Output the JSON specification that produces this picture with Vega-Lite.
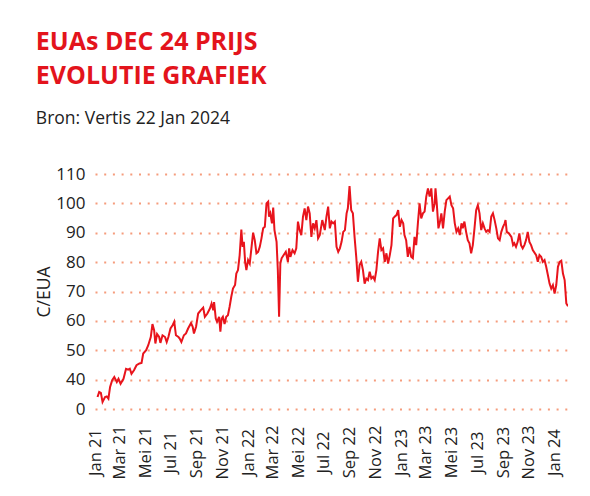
{
  "$schema": "https://vega.github.io/schema/vega-lite/v6.json",
  "width": 473,
  "height": 235,
  "autosize": {"type": "none"},
  "padding": {"left": 95, "top": 174, "right": 22, "bottom": 87},
  "background": "white",
  "title": {
    "text": ["EUAs DEC 24 PRIJS", "EVOLUTIE GRAFIEK"],
    "subtitle": "Bron: Vertis 22 Jan 2024",
    "anchor": "start",
    "frame": "bounds",
    "font": "Open Sans",
    "fontSize": 25,
    "fontWeight": "bold",
    "lineHeight": 34,
    "color": "#e3141c",
    "subtitleFont": "Open Sans",
    "subtitleFontSize": 17.5,
    "subtitleColor": "#222222",
    "subtitlePadding": 21,
    "offset": 38
  },
  "data": {
    "values": [
      {"date": "2021-01-07", "price": 34.1},
      {"date": "2021-01-11", "price": 35.8},
      {"date": "2021-01-15", "price": 35.5},
      {"date": "2021-01-19", "price": 32.4},
      {"date": "2021-01-25", "price": 34.1},
      {"date": "2021-01-29", "price": 34.3},
      {"date": "2021-02-02", "price": 33.5},
      {"date": "2021-02-06", "price": 37.5},
      {"date": "2021-02-11", "price": 39.8},
      {"date": "2021-02-16", "price": 40.9},
      {"date": "2021-02-22", "price": 39.2},
      {"date": "2021-02-26", "price": 40.3},
      {"date": "2021-03-03", "price": 38.6},
      {"date": "2021-03-10", "price": 40.3},
      {"date": "2021-03-16", "price": 43.7},
      {"date": "2021-03-21", "price": 43.4},
      {"date": "2021-03-25", "price": 43.7},
      {"date": "2021-03-29", "price": 42.0},
      {"date": "2021-04-04", "price": 43.2},
      {"date": "2021-04-10", "price": 44.9},
      {"date": "2021-04-17", "price": 45.5},
      {"date": "2021-04-22", "price": 45.7},
      {"date": "2021-04-26", "price": 48.9},
      {"date": "2021-05-03", "price": 50.0},
      {"date": "2021-05-08", "price": 51.7},
      {"date": "2021-05-14", "price": 54.5},
      {"date": "2021-05-18", "price": 58.9},
      {"date": "2021-05-22", "price": 56.8},
      {"date": "2021-05-25", "price": 52.3},
      {"date": "2021-05-29", "price": 55.5},
      {"date": "2021-06-03", "price": 54.5},
      {"date": "2021-06-06", "price": 52.5},
      {"date": "2021-06-11", "price": 55.1},
      {"date": "2021-06-17", "price": 54.5},
      {"date": "2021-06-21", "price": 52.8},
      {"date": "2021-06-25", "price": 54.5},
      {"date": "2021-06-30", "price": 57.4},
      {"date": "2021-07-05", "price": 58.5},
      {"date": "2021-07-09", "price": 59.7},
      {"date": "2021-07-13", "price": 55.1},
      {"date": "2021-07-19", "price": 54.5},
      {"date": "2021-07-22", "price": 54.0},
      {"date": "2021-07-26", "price": 52.8},
      {"date": "2021-08-01", "price": 55.1},
      {"date": "2021-08-06", "price": 55.7},
      {"date": "2021-08-11", "price": 57.4},
      {"date": "2021-08-18", "price": 59.3},
      {"date": "2021-08-22", "price": 58.0},
      {"date": "2021-08-25", "price": 55.7},
      {"date": "2021-08-30", "price": 58.0},
      {"date": "2021-09-04", "price": 62.5},
      {"date": "2021-09-10", "price": 63.6},
      {"date": "2021-09-16", "price": 64.5},
      {"date": "2021-09-20", "price": 61.4},
      {"date": "2021-09-26", "price": 62.5},
      {"date": "2021-10-02", "price": 64.2},
      {"date": "2021-10-06", "price": 65.9},
      {"date": "2021-10-10", "price": 63.6},
      {"date": "2021-10-12", "price": 66.4},
      {"date": "2021-10-16", "price": 60.8},
      {"date": "2021-10-19", "price": 59.7},
      {"date": "2021-10-24", "price": 61.4},
      {"date": "2021-10-27", "price": 56.3},
      {"date": "2021-10-30", "price": 60.8},
      {"date": "2021-11-02", "price": 61.4},
      {"date": "2021-11-06", "price": 58.9},
      {"date": "2021-11-10", "price": 61.4},
      {"date": "2021-11-14", "price": 61.9},
      {"date": "2021-11-18", "price": 64.8},
      {"date": "2021-11-22", "price": 68.2},
      {"date": "2021-11-26", "price": 71.0},
      {"date": "2021-12-01", "price": 72.2},
      {"date": "2021-12-04", "price": 76.1},
      {"date": "2021-12-08", "price": 77.3},
      {"date": "2021-12-12", "price": 82.4},
      {"date": "2021-12-16", "price": 91.1},
      {"date": "2021-12-19", "price": 85.2},
      {"date": "2021-12-22", "price": 86.9},
      {"date": "2021-12-25", "price": 80.1},
      {"date": "2021-12-28", "price": 77.3},
      {"date": "2022-01-01", "price": 80.7},
      {"date": "2022-01-05", "price": 79.5},
      {"date": "2022-01-09", "price": 84.7},
      {"date": "2022-01-13", "price": 90.0},
      {"date": "2022-01-17", "price": 87.5},
      {"date": "2022-01-21", "price": 83.0},
      {"date": "2022-01-25", "price": 83.5},
      {"date": "2022-01-29", "price": 85.2},
      {"date": "2022-02-02", "price": 88.1},
      {"date": "2022-02-06", "price": 91.5},
      {"date": "2022-02-10", "price": 92.0},
      {"date": "2022-02-14", "price": 100.0},
      {"date": "2022-02-18", "price": 100.6},
      {"date": "2022-02-20", "price": 95.5},
      {"date": "2022-02-23", "price": 96.6},
      {"date": "2022-02-27", "price": 93.2},
      {"date": "2022-03-02", "price": 98.6},
      {"date": "2022-03-05", "price": 90.9},
      {"date": "2022-03-10", "price": 86.9},
      {"date": "2022-03-13", "price": 77.3},
      {"date": "2022-03-16", "price": 61.4},
      {"date": "2022-03-19", "price": 79.5},
      {"date": "2022-03-22", "price": 81.3},
      {"date": "2022-03-27", "price": 82.4},
      {"date": "2022-04-01", "price": 83.5},
      {"date": "2022-04-06", "price": 80.1},
      {"date": "2022-04-09", "price": 84.7},
      {"date": "2022-04-12", "price": 81.8},
      {"date": "2022-04-17", "price": 84.1},
      {"date": "2022-04-22", "price": 83.0},
      {"date": "2022-04-26", "price": 84.7},
      {"date": "2022-04-30", "price": 93.8},
      {"date": "2022-05-04", "price": 90.9},
      {"date": "2022-05-08", "price": 89.2},
      {"date": "2022-05-12", "price": 95.5},
      {"date": "2022-05-16", "price": 98.3},
      {"date": "2022-05-20", "price": 94.3},
      {"date": "2022-05-24", "price": 98.9},
      {"date": "2022-05-28", "price": 96.6},
      {"date": "2022-06-01", "price": 88.6},
      {"date": "2022-06-05", "price": 93.2},
      {"date": "2022-06-09", "price": 91.5},
      {"date": "2022-06-13", "price": 94.3},
      {"date": "2022-06-17", "price": 88.1},
      {"date": "2022-06-21", "price": 89.2},
      {"date": "2022-06-27", "price": 94.3},
      {"date": "2022-07-03", "price": 90.9},
      {"date": "2022-07-07", "price": 95.5},
      {"date": "2022-07-11", "price": 98.9},
      {"date": "2022-07-15", "price": 91.5},
      {"date": "2022-07-19", "price": 93.8},
      {"date": "2022-07-23", "price": 93.2},
      {"date": "2022-07-27", "price": 93.8},
      {"date": "2022-07-31", "price": 85.2},
      {"date": "2022-08-04", "price": 83.5},
      {"date": "2022-08-08", "price": 84.7},
      {"date": "2022-08-12", "price": 86.9},
      {"date": "2022-08-16", "price": 90.3},
      {"date": "2022-08-20", "price": 90.9},
      {"date": "2022-08-24", "price": 96.6},
      {"date": "2022-08-27", "price": 98.3},
      {"date": "2022-08-31", "price": 105.9},
      {"date": "2022-09-04", "price": 97.7},
      {"date": "2022-09-08", "price": 96.6},
      {"date": "2022-09-12", "price": 88.6},
      {"date": "2022-09-16", "price": 81.8},
      {"date": "2022-09-20", "price": 73.3},
      {"date": "2022-09-24", "price": 79.0},
      {"date": "2022-09-28", "price": 80.1},
      {"date": "2022-10-02", "price": 77.3},
      {"date": "2022-10-06", "price": 72.7},
      {"date": "2022-10-10", "price": 74.4},
      {"date": "2022-10-14", "price": 73.9},
      {"date": "2022-10-18", "price": 76.7},
      {"date": "2022-10-22", "price": 74.4},
      {"date": "2022-10-26", "price": 75.0},
      {"date": "2022-10-30", "price": 73.9},
      {"date": "2022-11-03", "price": 77.3},
      {"date": "2022-11-07", "price": 83.5},
      {"date": "2022-11-11", "price": 88.1},
      {"date": "2022-11-15", "price": 84.1},
      {"date": "2022-11-19", "price": 84.7},
      {"date": "2022-11-23", "price": 80.1},
      {"date": "2022-11-27", "price": 83.0},
      {"date": "2022-12-01", "price": 79.5},
      {"date": "2022-12-05", "price": 82.4},
      {"date": "2022-12-09", "price": 85.8},
      {"date": "2022-12-13", "price": 94.9},
      {"date": "2022-12-17", "price": 95.5},
      {"date": "2022-12-21", "price": 96.0},
      {"date": "2022-12-25", "price": 97.7},
      {"date": "2022-12-29", "price": 92.0},
      {"date": "2023-01-02", "price": 94.3},
      {"date": "2023-01-06", "price": 93.2},
      {"date": "2023-01-09", "price": 89.2},
      {"date": "2023-01-13", "price": 87.5},
      {"date": "2023-01-17", "price": 81.8},
      {"date": "2023-01-21", "price": 85.2},
      {"date": "2023-01-25", "price": 81.8},
      {"date": "2023-01-29", "price": 81.3},
      {"date": "2023-02-02", "price": 88.6},
      {"date": "2023-02-06", "price": 85.8},
      {"date": "2023-02-10", "price": 93.2},
      {"date": "2023-02-14", "price": 100.0},
      {"date": "2023-02-18", "price": 94.9},
      {"date": "2023-02-22", "price": 96.6},
      {"date": "2023-02-26", "price": 97.2},
      {"date": "2023-03-02", "price": 102.3},
      {"date": "2023-03-06", "price": 105.1},
      {"date": "2023-03-10", "price": 102.3},
      {"date": "2023-03-14", "price": 105.1},
      {"date": "2023-03-18", "price": 97.2},
      {"date": "2023-03-22", "price": 100.0},
      {"date": "2023-03-24", "price": 105.1},
      {"date": "2023-03-27", "price": 100.0},
      {"date": "2023-03-31", "price": 91.5},
      {"date": "2023-04-03", "price": 93.2},
      {"date": "2023-04-07", "price": 96.6},
      {"date": "2023-04-11", "price": 91.5},
      {"date": "2023-04-15", "price": 97.2},
      {"date": "2023-04-19", "price": 101.1},
      {"date": "2023-04-23", "price": 101.7},
      {"date": "2023-04-27", "price": 102.3},
      {"date": "2023-05-01", "price": 99.4},
      {"date": "2023-05-05", "price": 98.3},
      {"date": "2023-05-09", "price": 93.2},
      {"date": "2023-05-13", "price": 90.3},
      {"date": "2023-05-17", "price": 91.5},
      {"date": "2023-05-21", "price": 89.2},
      {"date": "2023-05-25", "price": 93.2},
      {"date": "2023-05-28", "price": 91.5},
      {"date": "2023-06-01", "price": 93.8},
      {"date": "2023-06-05", "price": 90.3},
      {"date": "2023-06-09", "price": 87.5},
      {"date": "2023-06-13", "price": 86.4},
      {"date": "2023-06-17", "price": 83.0},
      {"date": "2023-06-21", "price": 85.8},
      {"date": "2023-06-25", "price": 91.5},
      {"date": "2023-06-29", "price": 97.7},
      {"date": "2023-07-03", "price": 99.4},
      {"date": "2023-07-07", "price": 96.6},
      {"date": "2023-07-11", "price": 90.9},
      {"date": "2023-07-15", "price": 93.2},
      {"date": "2023-07-19", "price": 91.5},
      {"date": "2023-07-23", "price": 90.3},
      {"date": "2023-07-27", "price": 90.9},
      {"date": "2023-07-31", "price": 90.3},
      {"date": "2023-08-04", "price": 95.5},
      {"date": "2023-08-08", "price": 96.6},
      {"date": "2023-08-12", "price": 94.3},
      {"date": "2023-08-16", "price": 91.5},
      {"date": "2023-08-20", "price": 88.1},
      {"date": "2023-08-24", "price": 87.5},
      {"date": "2023-08-28", "price": 90.3},
      {"date": "2023-09-01", "price": 92.0},
      {"date": "2023-09-05", "price": 93.2},
      {"date": "2023-09-07", "price": 94.3},
      {"date": "2023-09-10", "price": 90.3},
      {"date": "2023-09-15", "price": 89.8},
      {"date": "2023-09-21", "price": 88.6},
      {"date": "2023-09-25", "price": 85.8},
      {"date": "2023-09-28", "price": 86.4},
      {"date": "2023-10-02", "price": 85.2},
      {"date": "2023-10-06", "price": 86.9},
      {"date": "2023-10-10", "price": 89.8},
      {"date": "2023-10-14", "price": 85.8},
      {"date": "2023-10-18", "price": 84.7},
      {"date": "2023-10-22", "price": 85.8},
      {"date": "2023-10-26", "price": 87.5},
      {"date": "2023-10-30", "price": 90.3},
      {"date": "2023-11-03", "price": 86.9},
      {"date": "2023-11-07", "price": 85.8},
      {"date": "2023-11-11", "price": 84.1},
      {"date": "2023-11-19", "price": 82.4},
      {"date": "2023-11-23", "price": 80.1},
      {"date": "2023-11-27", "price": 82.4},
      {"date": "2023-12-01", "price": 81.8},
      {"date": "2023-12-05", "price": 80.1},
      {"date": "2023-12-09", "price": 80.7},
      {"date": "2023-12-13", "price": 78.4},
      {"date": "2023-12-17", "price": 75.6},
      {"date": "2023-12-21", "price": 72.7},
      {"date": "2023-12-25", "price": 71.0},
      {"date": "2023-12-29", "price": 72.2},
      {"date": "2024-01-02", "price": 69.3},
      {"date": "2024-01-06", "price": 72.2},
      {"date": "2024-01-10", "price": 78.4},
      {"date": "2024-01-14", "price": 80.1},
      {"date": "2024-01-18", "price": 80.5},
      {"date": "2024-01-22", "price": 76.1},
      {"date": "2024-01-26", "price": 73.9},
      {"date": "2024-01-30", "price": 65.9},
      {"date": "2024-02-03", "price": 65.0}
    ]
  },
  "mark": {"type": "line", "color": "#e8141c", "strokeWidth": 2, "clip": true},
  "encoding": {
    "x": {
      "field": "date",
      "type": "temporal",
      "scale": {"type": "utc", "domain": [{"year": 2021, "month": 1, "date": 1, "utc": true}, {"year": 2024, "month": 2, "date": 3, "utc": true}]},
      "axis": {
        "title": null,
        "grid": false,
        "domain": false,
        "ticks": false,
        "values": [
          {"year": 2021, "month": 1, "date": 1, "utc": true},
          {"year": 2021, "month": 3, "date": 1, "utc": true},
          {"year": 2021, "month": 5, "date": 1, "utc": true},
          {"year": 2021, "month": 7, "date": 1, "utc": true},
          {"year": 2021, "month": 9, "date": 1, "utc": true},
          {"year": 2021, "month": 11, "date": 1, "utc": true},
          {"year": 2022, "month": 1, "date": 1, "utc": true},
          {"year": 2022, "month": 3, "date": 1, "utc": true},
          {"year": 2022, "month": 5, "date": 1, "utc": true},
          {"year": 2022, "month": 7, "date": 1, "utc": true},
          {"year": 2022, "month": 9, "date": 1, "utc": true},
          {"year": 2022, "month": 11, "date": 1, "utc": true},
          {"year": 2023, "month": 1, "date": 1, "utc": true},
          {"year": 2023, "month": 3, "date": 1, "utc": true},
          {"year": 2023, "month": 5, "date": 1, "utc": true},
          {"year": 2023, "month": 7, "date": 1, "utc": true},
          {"year": 2023, "month": 9, "date": 1, "utc": true},
          {"year": 2023, "month": 11, "date": 1, "utc": true},
          {"year": 2024, "month": 1, "date": 1, "utc": true}
        ],
        "labelExpr": "replace(utcFormat(datum.value, '%b %y'), 'May', 'Mei')",
        "labelAngle": -90,
        "labelAlign": "center",
        "labelBaseline": "middle",
        "labelPadding": 43,
        "labelFont": "Open Sans",
        "labelFontSize": 16.5,
        "labelColor": "#222222",
        "labelOverlap": false,
        "labelBound": false,
        "labelFlush": false
      }
    },
    "y": {
      "field": "price",
      "type": "quantitative",
      "scale": {"domain": [30, 110], "nice": false, "zero": false},
      "axis": {
        "title": "C/EUA",
        "titleFont": "Open Sans",
        "titleFontSize": 17.5,
        "titleFontWeight": "normal",
        "titleColor": "#222222",
        "titlePadding": 2,
        "values": [30, 40, 50, 60, 70, 80, 90, 100, 110],
        "labelExpr": "datum.value == 30 ? '0' : datum.label",
        "labelFont": "Open Sans",
        "labelFontSize": 17,
        "labelColor": "#222222",
        "labelPadding": 10,
        "domain": false,
        "ticks": false,
        "grid": true,
        "gridColor": "#f59c7c",
        "gridWidth": 2,
        "gridDash": [2, 6.7]
      }
    }
  },
  "config": {
    "view": {"stroke": null}
  }
}
